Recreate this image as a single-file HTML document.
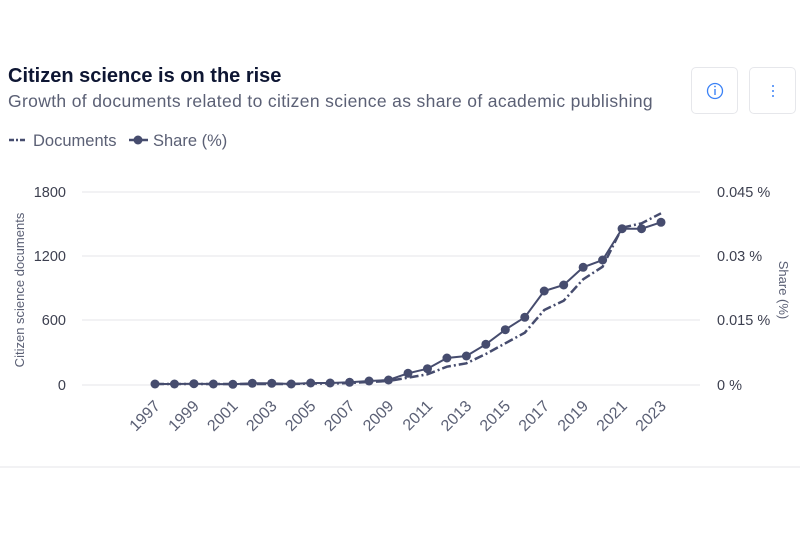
<!DOCTYPE html>
<html><head><style>
body{margin:0;width:800px;height:550px;background:#fff;font-family:"Liberation Sans",sans-serif;overflow:hidden;position:relative}
.t{position:absolute;left:8px;top:65px;font-size:20px;font-weight:bold;color:#0e1633}
.s{position:absolute;left:8px;top:91px;font-size:17.5px;color:#5b6075;letter-spacing:0.35px}
.btn{position:absolute;top:67px;width:47px;height:47px;border:1px solid #e6e7eb;border-radius:5px;box-sizing:border-box}
</style></head><body>
<div class="t">Citizen science is on the rise</div>
<div class="s">Growth of documents related to citizen science as share of academic publishing</div>
<div class="btn" style="left:691px"><svg width="47" height="47"><circle cx="23" cy="23" r="7.5" fill="none" stroke="#3b82f6" stroke-width="1.3"/><line x1="23" y1="21" x2="23" y2="27" stroke="#3b82f6" stroke-width="1.4"/><circle cx="23" cy="18.5" r="0.9" fill="#3b82f6"/></svg></div>
<div class="btn" style="left:749px"><svg width="47" height="47"><circle cx="23" cy="18" r="1" fill="#3b82f6"/><circle cx="23" cy="23" r="1" fill="#3b82f6"/><circle cx="23" cy="28" r="1" fill="#3b82f6"/></svg></div>
<svg width="800" height="550" style="position:absolute;left:0;top:0" font-family="Liberation Sans, sans-serif">
<g font-size="16.5" fill="#5b6075">
<line x1="9" y1="140" x2="27" y2="140" stroke="#464c6e" stroke-width="2.5" stroke-dasharray="5,2,2,2"/>
<text x="33" y="146">Documents</text>
<line x1="129" y1="140" x2="148" y2="140" stroke="#464c6e" stroke-width="2.5"/><circle cx="138" cy="140" r="4.5" fill="#464c6e"/>
<text x="153" y="146">Share (%)</text>
</g>
<g stroke="#e4e4e8" stroke-width="1">
<line x1="82" y1="192" x2="700" y2="192"/><line x1="82" y1="256" x2="700" y2="256"/><line x1="82" y1="320" x2="700" y2="320"/><line x1="82" y1="385" x2="700" y2="385"/>
<line x1="0" y1="467" x2="800" y2="467"/>
</g>
<g font-size="14.5" fill="#3c3f4f" text-anchor="end">
<text x="66" y="197">1800</text><text x="66" y="261">1200</text><text x="66" y="325">600</text><text x="66" y="390">0</text>
</g>
<g font-size="14.5" fill="#3c3f4f">
<text x="717" y="197">0.045 %</text><text x="717" y="261">0.03 %</text><text x="717" y="325">0.015 %</text><text x="717" y="390">0 %</text>
</g>
<text transform="translate(24,290) rotate(-90)" font-size="13" fill="#5b6075" text-anchor="middle">Citizen science documents</text>
<text transform="translate(779,290) rotate(90)" font-size="13" fill="#5b6075" text-anchor="middle">Share (%)</text>
<g font-size="16" fill="#5b6075" text-anchor="end" id="xl"></g>
<polyline id="d" fill="none" stroke="#464c6e" stroke-width="2.5" stroke-dasharray="9,3,2,3"/>
<polyline id="s" fill="none" stroke="#464c6e" stroke-width="2"/>
<g id="m" fill="#464c6e"></g>
</svg>
<script>
var sy=[384,384,383.7,384,384.3,383.3,383.3,384,383,383,382.3,381,380,373.3,368.7,358,356,344.3,329.7,317.3,291,285,267.3,260,228.7,228.7,222.3];
var dy=[384,384,384,384,384,384,384,384,383.5,383.5,383,382,381,377.7,374.3,366.7,363.3,354,343.3,332.7,310,300.7,279.3,266.7,227.7,223.3,213.3];
var x0=155,st=506/26,sp=[],dp=[],m='',xl='';
for(var i=0;i<27;i++){var x=x0+i*st;sp.push(x+','+sy[i]);dp.push(x+','+dy[i]);m+='<circle cx="'+x+'" cy="'+sy[i]+'" r="4.5"/>';
if(i%2==0)xl+='<text transform="translate('+(x+6)+',407) rotate(-45)">'+(1997+i)+'</text>';}
document.getElementById('s').setAttribute('points',sp.join(' '));
document.getElementById('d').setAttribute('points',dp.join(' '));
document.getElementById('m').innerHTML=m;
document.getElementById('xl').innerHTML=xl;
</script>
</body></html>
